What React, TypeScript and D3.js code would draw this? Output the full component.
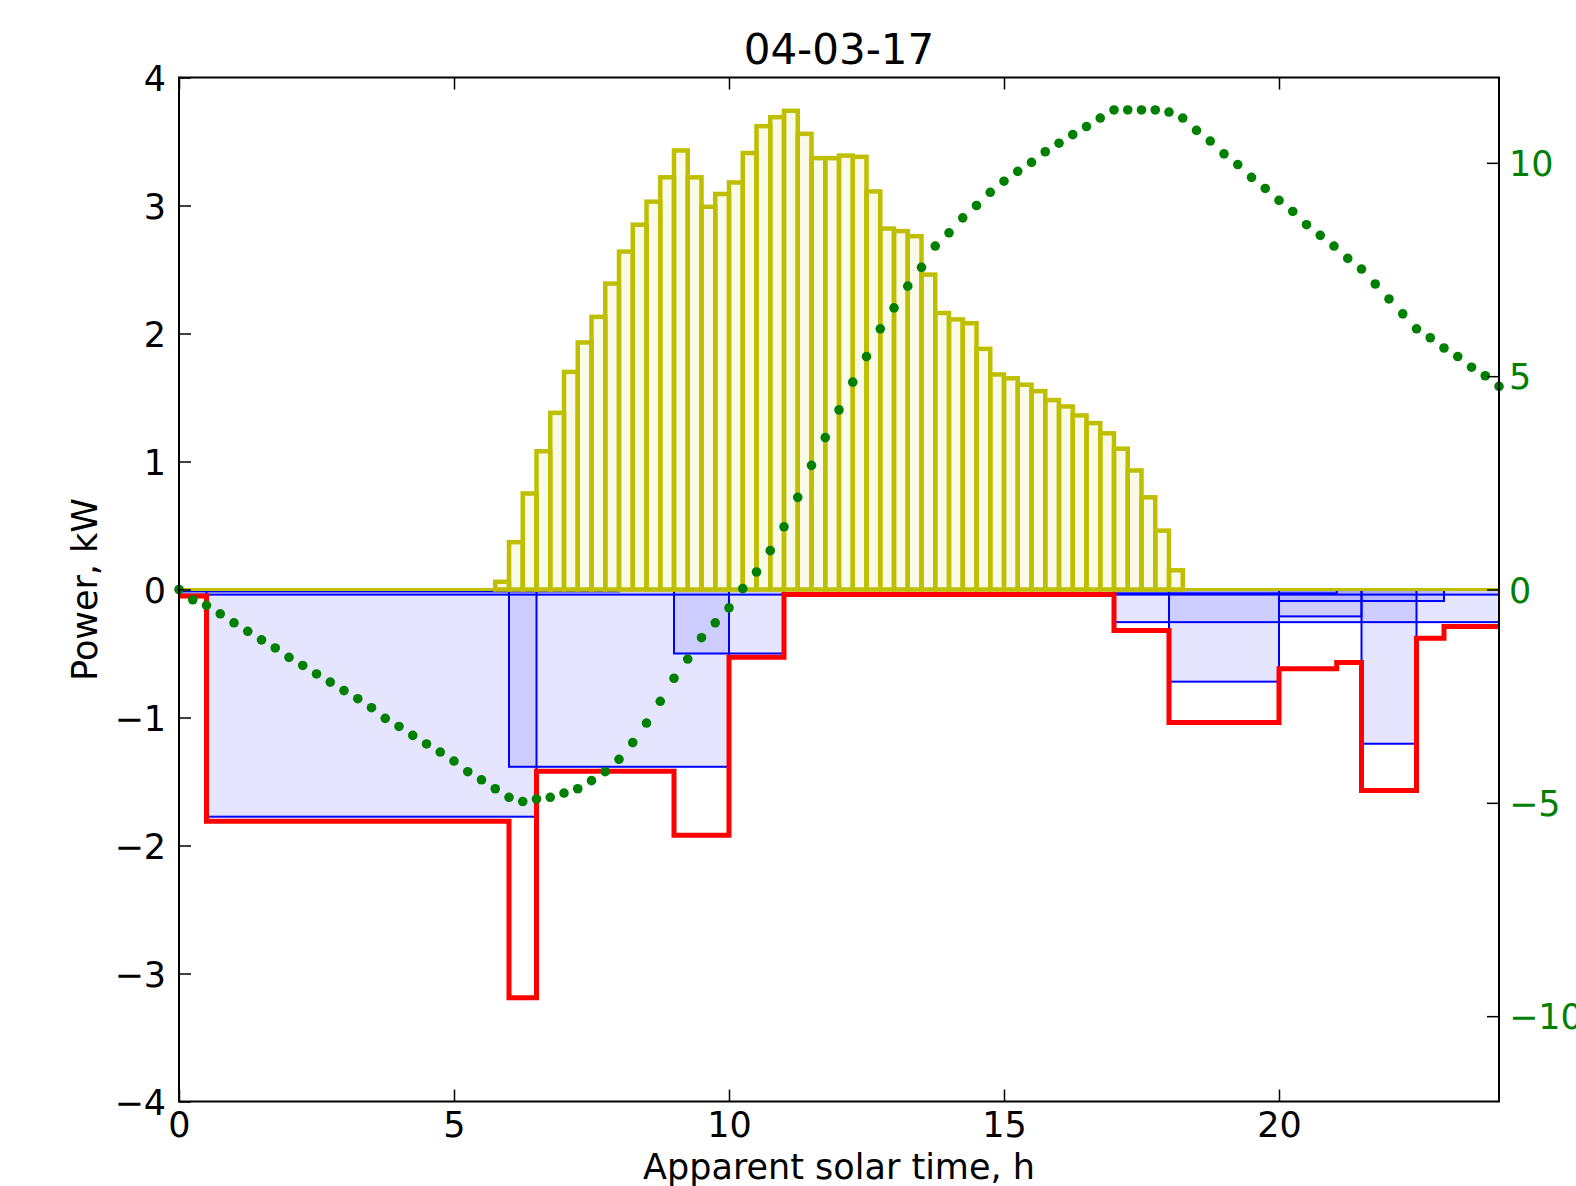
import * as d3 from "d3";
import { useEffect, useRef } from "react";

// PV production histogram, 15 min bins starting at pvStart (kW)
const pvStart = 5.75;
const binWidth = 0.25;
const pvPower = [
  0.06, 0.37, 0.75, 1.08, 1.38, 1.7, 1.93, 2.13, 2.39, 2.64, 2.85, 3.03, 3.22,
  3.43, 3.22, 2.99, 3.09, 3.18, 3.41, 3.62, 3.69, 3.74, 3.56, 3.37, 3.37, 3.39,
  3.38, 3.11, 2.82, 2.8, 2.76, 2.46, 2.16, 2.11, 2.08, 1.88, 1.68, 1.65, 1.6,
  1.55, 1.48, 1.43, 1.36, 1.3, 1.22, 1.1, 0.93, 0.72, 0.46, 0.15,
];

// appliance loads (blue blocks)
const loadStart = [0, 0, 0.5, 6.0, 9.0, 17.0, 17.0, 18.0, 20.0, 20.0, 21.5];
const loadEnd = [24, 8.0, 6.5, 10.0, 11.0, 24, 21.05, 20.0, 23.0, 21.5, 22.5];
const loadPower = [0.04, 0.015, 1.775, 1.385, 0.5, 0.255, 0.03, 0.72, 0.09, 0.21, 1.205];

// grid power (red step line)
const gridTimes = [0, 0.5, 6.0, 6.5, 9.0, 10.0, 11.0, 17.0, 18.0, 20.0, 21.05, 21.5, 22.5, 23.0, 24];
const gridPower = [-0.05, -1.81, -3.19, -1.42, -1.92, -0.53, -0.04, -0.32, -1.04, -0.62, -0.57, -1.57, -0.38, -0.29];

// outdoor temperature, every 15 min (right axis)
const tempStep = 0.25;
const temperature = [
  0, -0.24, -0.37, -0.57, -0.78, -0.98, -1.18, -1.37, -1.59, -1.78, -1.98,
  -2.17, -2.37, -2.56, -2.77, -3.02, -3.21, -3.42, -3.62, -3.81, -4.02, -4.27,
  -4.46, -4.67, -4.87, -4.97, -4.91, -4.87, -4.77, -4.67, -4.48, -4.27, -3.98,
  -3.59, -3.13, -2.62, -2.08, -1.63, -1.13, -0.78, -0.43, 0.02, 0.41, 0.91,
  1.47, 2.16, 2.91, 3.56, 4.21, 4.86, 5.46, 6.11, 6.6, 7.11, 7.55, 8.05, 8.36,
  8.71, 9.0, 9.31, 9.57, 9.8, 10.01, 10.26, 10.46, 10.66, 10.85, 11.05, 11.24,
  11.24, 11.24, 11.24, 11.19, 11.05, 10.76, 10.51, 10.21, 9.96, 9.66, 9.4,
  9.12, 8.86, 8.55, 8.3, 8.05, 7.76, 7.51, 7.16, 6.81, 6.46, 6.11, 5.9, 5.66,
  5.46, 5.21, 5.01, 4.76,
];

const xTicks = [0, 5, 10, 15, 20];
const yTicks = [-4, -3, -2, -1, 0, 1, 2, 3, 4];
const tempTicks = [-10, -5, 0, 5, 10];

const W = 1576;
const H = 1186;
const margin = { left: 179, top: 77.5 };
const pw = 1320;
const ph = 1024;
const FONT = "DejaVu Sans, sans-serif";

export default function App() {
  const ref = useRef<SVGSVGElement>(null);

  useEffect(() => {
    if (!ref.current) return;
    const root = d3.select(ref.current);
    root.selectAll("*").remove();

    const x = d3.scaleLinear().domain([0, 24]).range([0, pw]);
    const y = d3.scaleLinear().domain([-4, 4]).range([ph, 0]);
    const yT = d3.scaleLinear().domain([-12, 12]).range([ph, 0]);

    root
      .append("defs")
      .append("clipPath")
      .attr("id", "plot-clip")
      .append("rect")
      .attr("width", pw)
      .attr("height", ph);

    const svg = root
      .append("g")
      .attr("transform", `translate(${margin.left},${margin.top})`);

    const plot = svg.append("g").attr("clip-path", "url(#plot-clip)");

    // blue load blocks
    plot
      .selectAll(".load")
      .data(loadPower)
      .enter()
      .append("rect")
      .attr("class", "load")
      .attr("x", (_, i) => x(loadStart[i]))
      .attr("y", y(0))
      .attr("width", (_, i) => x(loadEnd[i]) - x(loadStart[i]))
      .attr("height", (d) => y(-d) - y(0))
      .attr("fill", "rgba(0,0,255,0.1)")
      .attr("stroke", "#0000ff")
      .attr("stroke-width", 2);

    // PV histogram (zero bins show as a flat line)
    plot
      .append("line")
      .attr("x1", x(0))
      .attr("x2", x(24))
      .attr("y1", y(0))
      .attr("y2", y(0))
      .attr("stroke", "#bfbf00")
      .attr("stroke-width", 3);

    plot
      .selectAll(".pv")
      .data(pvPower)
      .enter()
      .append("rect")
      .attr("class", "pv")
      .attr("x", (_, i) => x(pvStart + i * binWidth))
      .attr("y", (d) => y(d))
      .attr("width", x(binWidth) - x(0))
      .attr("height", (d) => y(0) - y(d))
      .attr("fill", "rgba(191,191,0,0.08)")
      .attr("stroke", "#bfbf00")
      .attr("stroke-width", 4.5);

    // grid power step line
    const gridPts: [number, number][] = gridTimes.map((t, i) => [
      t,
      gridPower[Math.min(i, gridPower.length - 1)],
    ]);
    const stepLine = d3
      .line<[number, number]>()
      .x((d) => x(d[0]))
      .y((d) => y(d[1]))
      .curve(d3.curveStepAfter);

    plot
      .append("path")
      .datum(gridPts)
      .attr("d", stepLine)
      .attr("fill", "none")
      .attr("stroke", "#ff0000")
      .attr("stroke-width", 5)
      .attr("stroke-linejoin", "miter");

    // temperature dots
    svg
      .selectAll(".temp")
      .data(temperature)
      .enter()
      .append("circle")
      .attr("class", "temp")
      .attr("cx", (_, i) => x(i * tempStep))
      .attr("cy", (d) => yT(d))
      .attr("r", 4.8)
      .attr("fill", "#008000");

    // axes
    const styleAxis = (g: d3.Selection<SVGGElement, unknown, null, undefined>) => {
      g.select(".domain").remove();
      g.attr("font-family", FONT).attr("font-size", 35);
      g.selectAll(".tick line").attr("stroke", "#000").attr("stroke-width", 1.5);
      g.selectAll(".tick text").attr("fill", "#000");
    };

    svg
      .append("g")
      .attr("transform", `translate(0,${ph})`)
      .call(d3.axisBottom(x).tickValues(xTicks).tickSize(-12).tickPadding(11))
      .call(styleAxis);

    svg
      .append("g")
      .call(d3.axisTop(x).tickValues(xTicks).tickSize(-12).tickFormat(() => ""))
      .call(styleAxis);

    const left = svg
      .append("g")
      .call(d3.axisLeft(y).tickValues(yTicks).tickSize(-12).tickPadding(13))
      .call(styleAxis);
    left.selectAll(".tick text").attr("dy", "0.36em");

    const right = svg
      .append("g")
      .attr("transform", `translate(${pw},0)`)
      .call(d3.axisRight(yT).tickValues(tempTicks).tickSize(-12).tickPadding(10))
      .call(styleAxis);
    right.selectAll(".tick text").attr("dy", "0.36em").attr("fill", "#008000");

    // frame
    svg
      .append("rect")
      .attr("width", pw)
      .attr("height", ph)
      .attr("fill", "none")
      .attr("stroke", "#000")
      .attr("stroke-width", 2);

    // title and labels
    svg
      .append("text")
      .attr("x", pw / 2)
      .attr("y", -14)
      .attr("text-anchor", "middle")
      .attr("font-family", FONT)
      .attr("font-size", 42)
      .text("04-03-17");

    svg
      .append("text")
      .attr("x", pw / 2)
      .attr("y", ph + 77)
      .attr("text-anchor", "middle")
      .attr("font-family", FONT)
      .attr("font-size", 35)
      .text("Apparent solar time, h");

    svg
      .append("text")
      .attr("transform", `translate(${97 - margin.left},${ph / 2}) rotate(-90)`)
      .attr("text-anchor", "middle")
      .attr("font-family", FONT)
      .attr("font-size", 35)
      .text("Power, kW");
  }, []);

  return (
    <svg
      ref={ref}
      width={W}
      height={H}
      style={{ position: "absolute", left: 0, top: 0, background: "#fff" }}
    />
  );
}
